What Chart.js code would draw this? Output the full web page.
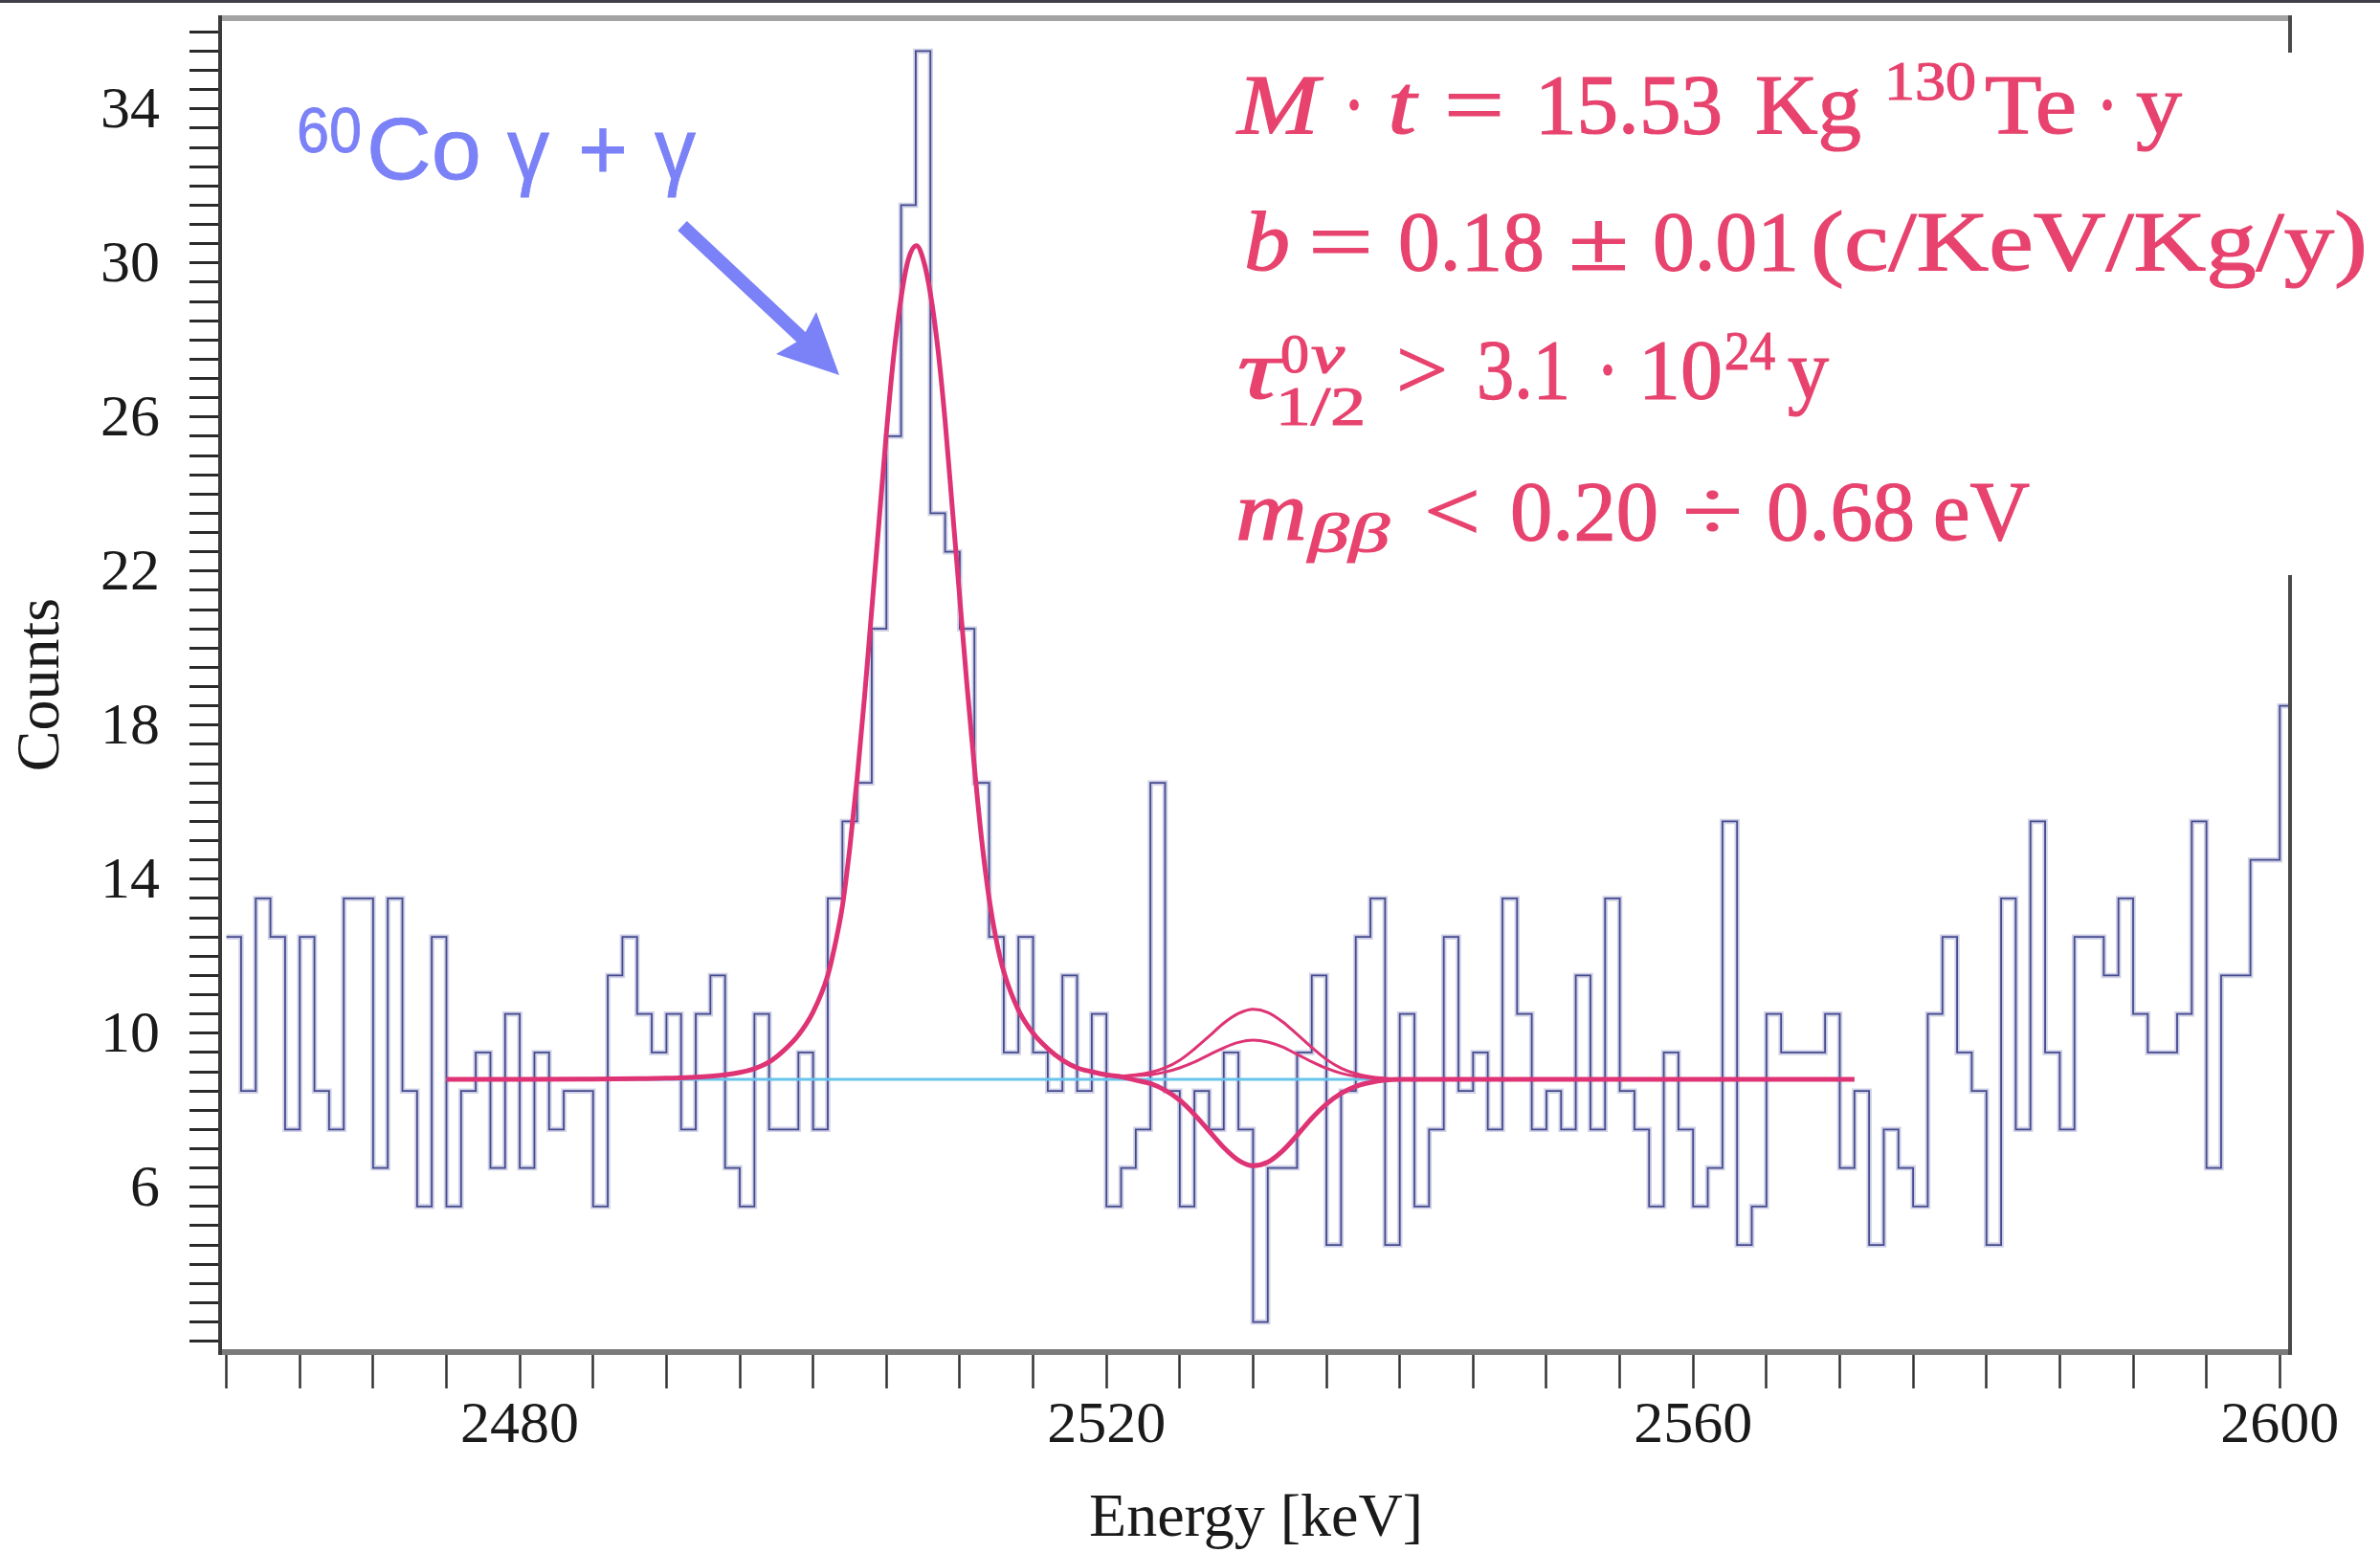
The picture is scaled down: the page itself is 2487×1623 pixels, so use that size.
<!DOCTYPE html>
<html>
<head>
<meta charset="utf-8">
<title>Energy spectrum</title>
<script src="https://cdn.jsdelivr.net/npm/chart.js@4.4.1/dist/chart.umd.min.js"></script>
<style>
  html, body { margin: 0; padding: 0; background: #fff; overflow: hidden; }
  canvas { display: block; }
</style>
</head>
<body>
<canvas id="spectrum" width="2487" height="1623"></canvas>
<script>
// histogram: 1 keV bins, first bin starts at 2460 keV
const binStart = 2460;
const counts = [
  13, 9, 14, 13, 8, 13, 9, 8, 14, 14,      // 2460
  7, 14, 9, 6, 13, 6, 9, 10, 7, 11,        // 2470
  7, 10, 8, 9, 9, 6, 12, 13, 11, 10,       // 2480
  11, 8, 11, 12, 7, 6, 11, 8, 8, 10,       // 2490
  8, 14, 16, 17, 21, 26, 32, 36, 24, 23,   // 2500
  21, 17, 13, 10, 13, 10, 9, 12, 9, 11,    // 2510
  6, 7, 8, 17, 9, 6, 9, 8, 10, 8,          // 2520
  3, 7, 7, 10, 12, 5, 9, 13, 14, 5,        // 2530
  11, 6, 8, 13, 9, 10, 8, 14, 11, 8,       // 2540
  9, 8, 12, 8, 14, 9, 8, 6, 10, 8,         // 2550
  6, 7, 16, 5, 6, 11, 10, 10, 10, 11,      // 2560
  7, 9, 5, 8, 7, 6, 11, 13, 10, 9,         // 2570
  5, 14, 8, 16, 10, 8, 13, 13, 12, 14,     // 2580
  11, 10, 10, 11, 16, 7, 12, 12, 15, 15,   // 2590
  19                                       // 2600
];

// best fit (60Co peak + flat background + 0nu signal)
const fitEnergy = [2475, 2480, 2485, 2488, 2490, 2493, 2495, 2496, 2497, 2498,
  2499, 2500, 2501, 2501.5, 2502, 2502.5, 2503, 2503.5, 2504, 2504.5,
  2505, 2505.5, 2506, 2506.5, 2507.05, 2507.5, 2508, 2508.5, 2509, 2509.5,
  2510, 2510.5, 2511, 2511.5, 2512, 2512.5, 2513, 2514, 2515, 2516,
  2517, 2518, 2519, 2520, 2521, 2522, 2523, 2524, 2525, 2526,
  2527, 2528, 2529, 2530, 2531, 2532, 2533, 2534, 2535, 2536,
  2537, 2538, 2539, 2540, 2545, 2555, 2565, 2571];
const fitCounts = [9.30, 9.30, 9.31, 9.32, 9.33, 9.38, 9.48, 9.58, 9.75, 10.05,
  10.45, 11.05, 12.0, 12.8, 13.8, 15.3, 17.1, 19.2, 21.5, 23.8,
  26.1, 28.1, 29.6, 30.6, 30.95, 30.6, 29.7, 28.3, 26.4, 24.1,
  21.8, 19.5, 17.4, 15.5, 14.0, 12.9, 12.1, 11.1, 10.5, 10.1,
  9.8, 9.6, 9.5, 9.42, 9.37, 9.28, 9.19, 9.02, 8.76, 8.39,
  7.96, 7.53, 7.20, 7.06, 7.15, 7.44, 7.85, 8.29, 8.66, 8.94,
  9.12, 9.22, 9.28, 9.30, 9.30, 9.30, 9.30, 9.30];

// signal limit curves around Q = 2530 keV
const limitEnergy = [2520, 2521, 2522, 2523, 2524, 2525, 2526, 2527, 2528, 2529, 2530,
  2531, 2532, 2533, 2534, 2535, 2536, 2537, 2538, 2539, 2540, 2541];
const limitHigh = [9.42, 9.39, 9.42, 9.48, 9.60, 9.80, 10.09, 10.42, 10.76, 11.01, 11.12,
  11.04, 10.80, 10.47, 10.13, 9.82, 9.59, 9.45, 9.37, 9.33, 9.30, 9.30];
const limitLow = [9.42, 9.38, 9.40, 9.42, 9.49, 9.60, 9.75, 9.94, 10.12, 10.26, 10.32,
  10.27, 10.14, 9.95, 9.76, 9.59, 9.46, 9.38, 9.34, 9.31, 9.30, 9.30];

// flat background level
const bkgEnergy = [2475, 2571];
const bkgCounts = [9.3, 9.3];

const serif = '"Liberation Serif", "Times New Roman", serif';
const sans = '"Liberation Sans", Arial, sans-serif';
const pink = '#de3374';
const textPink = '#e7436e';
const coBlue = '#7b81f6';

const histPoints = counts.map((c, i) => ({ x: binStart + i, y: c }));
histPoints.push({ x: binStart + counts.length, y: counts[counts.length - 1] });
const toPoints = (xs, ys) => xs.map((x, i) => ({ x: x, y: ys[i] }));

// draws a text run squeezed/stretched to span x0..x1
function run(ctx, text, x0, x1, base, size, italic, family) {
  ctx.font = (italic ? 'italic ' : '') + size + 'px ' + family;
  const w = ctx.measureText(text).width;
  ctx.save();
  ctx.translate(x0, base);
  ctx.scale((x1 - x0) / w, 1);
  ctx.fillText(text, 0, 0);
  ctx.strokeText(text, 0, 0);
  ctx.restore();
}

function seg(ctx, x1, y1, x2, y2) {
  ctx.beginPath();
  ctx.moveTo(x1, y1);
  ctx.lineTo(x2, y2);
  ctx.stroke();
}

const decor = {
  id: 'decor',
  afterDatasetsDraw(chart) {
    const ctx = chart.ctx, a = chart.chartArea;
    ctx.save();
    ctx.lineCap = 'butt';
    ctx.strokeStyle = '#a3a3a3'; ctx.lineWidth = 6;
    seg(ctx, a.left - 4, a.top - 1, a.right + 2, a.top - 1);
    ctx.strokeStyle = '#7a7a7a'; ctx.lineWidth = 6;
    seg(ctx, a.left - 4, a.bottom + 2, a.right + 2, a.bottom + 2);
    ctx.strokeStyle = '#3a3a3a'; ctx.lineWidth = 4;
    seg(ctx, a.left - 2, a.top - 4, a.left - 2, a.bottom + 5);
    ctx.strokeStyle = '#4a4a4a';
    seg(ctx, a.right, a.top - 4, a.right, a.bottom + 5);
    ctx.restore();
  },
  afterDraw(chart) {
    const ctx = chart.ctx;
    ctx.save();
    // thin dark edge on top of the picture
    ctx.fillStyle = '#3f3f4a';
    ctx.fillRect(0, 0, chart.width, 3);

    // white box behind the results
    ctx.fillStyle = '#ffffff';
    ctx.fillRect(1280, 55, chart.width - 1280, 546);

    ctx.textAlign = 'left';
    ctx.textBaseline = 'alphabetic';
    ctx.fillStyle = textPink;
    ctx.strokeStyle = textPink;
    ctx.lineWidth = 1.2;
    // M·t = 15.53 Kg 130Te·y
    run(ctx, 'M', 1293, 1378, 139, 88, true, serif);
    run(ctx, '\u00b7', 1403, 1427, 139, 88, false, serif);
    run(ctx, 't', 1450, 1480, 139, 88, true, serif);
    run(ctx, '=', 1509, 1572, 139, 88, false, serif);
    run(ctx, '15.53', 1604, 1800, 139, 88, false, serif);
    run(ctx, 'Kg', 1834, 1945, 139, 88, false, serif);
    run(ctx, '130', 1969, 2065, 104, 58, false, serif);
    run(ctx, 'Te', 2074, 2170, 139, 88, false, serif);
    run(ctx, '\u00b7', 2190, 2214, 139, 88, false, serif);
    run(ctx, 'y', 2232, 2280, 139, 88, false, serif);
    // b = 0.18 ± 0.01 (c/KeV/Kg/y)
    run(ctx, 'b', 1300, 1348, 282, 88, true, serif);
    run(ctx, '=', 1367, 1435, 282, 88, false, serif);
    run(ctx, '0.18', 1461, 1614, 282, 88, false, serif);
    run(ctx, '\u00b1', 1639, 1702, 282, 88, false, serif);
    run(ctx, '0.01', 1727, 1880, 282, 88, false, serif);
    run(ctx, '(c/KeV/Kg/y)', 1892, 2474, 282, 88, false, serif);
    // tau > 3.1·10^24 y
    run(ctx, '\u03c4', 1293, 1337, 416, 88, true, serif);
    run(ctx, '0', 1338, 1368, 389, 58, false, serif);
    run(ctx, '\u03bd', 1370, 1405, 389, 58, true, serif);
    run(ctx, '1/2', 1333, 1427, 444, 58, false, serif);
    run(ctx, '>', 1459, 1513, 416, 88, false, serif);
    run(ctx, '3.1', 1543, 1641, 416, 88, false, serif);
    run(ctx, '\u00b7', 1668, 1692, 416, 88, false, serif);
    run(ctx, '10', 1712, 1800, 416, 88, false, serif);
    run(ctx, '24', 1802, 1855, 386, 58, false, serif);
    run(ctx, 'y', 1868, 1911, 416, 88, false, serif);
    // m_bb < 0.20 ÷ 0.68 eV
    run(ctx, 'm', 1291, 1366, 564, 88, true, serif);
    run(ctx, '\u03b2\u03b2', 1367, 1452, 576, 58, true, serif);
    run(ctx, '<', 1488, 1547, 564, 88, false, serif);
    run(ctx, '0.20', 1578, 1733, 564, 88, false, serif);
    run(ctx, '\u00f7', 1758, 1821, 564, 88, false, serif);
    run(ctx, '0.68', 1846, 2001, 564, 88, false, serif);
    run(ctx, 'eV', 2020, 2121, 564, 88, false, serif);

    // 60Co gamma + gamma label and arrow
    ctx.fillStyle = coBlue;
    ctx.strokeStyle = coBlue;
    ctx.lineWidth = 0.8;
    run(ctx, '60', 310, 378, 159, 66, false, sans);
    run(ctx, 'Co', 383, 503, 187, 90, false, sans);
    run(ctx, '\u03b3', 530, 574, 187, 90, false, sans);
    run(ctx, '+', 604, 656, 187, 90, false, sans);
    run(ctx, '\u03b3', 684, 727, 187, 90, false, sans);

    ctx.lineWidth = 14;
    ctx.lineCap = 'butt';
    seg(ctx, 713, 236, 840, 355);
    ctx.beginPath();
    ctx.moveTo(877, 392);
    ctx.lineTo(853, 326);
    ctx.lineTo(838, 354);
    ctx.lineTo(811, 370);
    ctx.closePath();
    ctx.fill();
    ctx.restore();
  }
};

const ctx = document.getElementById('spectrum').getContext('2d');
const spectrumChart = new Chart(ctx, {
  type: 'line',
  data: {
    datasets: [
      {
        label: 'Fit',
        data: toPoints(fitEnergy, fitCounts),
        borderColor: pink,
        borderWidth: 5,
        pointRadius: 0,
        cubicInterpolationMode: 'monotone',
        order: 0
      },
      {
        label: 'Upper limit',
        data: toPoints(limitEnergy, limitHigh),
        borderColor: pink,
        borderWidth: 3,
        pointRadius: 0,
        cubicInterpolationMode: 'monotone',
        order: 0
      },
      {
        label: 'Lower limit',
        data: toPoints(limitEnergy, limitLow),
        borderColor: pink,
        borderWidth: 3,
        pointRadius: 0,
        cubicInterpolationMode: 'monotone',
        order: 0
      },
      {
        label: 'Background',
        data: toPoints(bkgEnergy, bkgCounts),
        borderColor: '#68c4ec',
        borderWidth: 3,
        pointRadius: 0,
        order: 1
      },
      {
        label: 'Counts',
        data: histPoints,
        stepped: 'before',
        borderColor: '#444a8f',
        borderWidth: 1.8,
        pointRadius: 0,
        order: 2
      },
      {
        label: 'Counts halo',
        data: histPoints,
        stepped: 'before',
        borderColor: 'rgba(150, 153, 200, 0.45)',
        borderWidth: 5.5,
        pointRadius: 0,
        order: 3
      }
    ]
  },
  options: {
    responsive: false,
    animation: false,
    devicePixelRatio: 1,
    layout: { autoPadding: false, padding: { top: 20, right: 94, left: 0, bottom: 0 } },
    plugins: {
      legend: { display: false },
      tooltip: { enabled: false }
    },
    scales: {
      x: {
        type: 'linear',
        min: 2459.7,
        max: 2600.7,
        afterFit(scale) {
          scale.height = 212;
          scale.paddingLeft = 0;
          scale.paddingRight = 0;
        },
        border: { display: false },
        grid: { drawOnChartArea: false, drawTicks: true, tickLength: 40, tickWidth: 2.5, tickColor: '#333' },
        ticks: {
          stepSize: 5,
          includeBounds: false,
          autoSkip: false,
          maxRotation: 0,
          padding: 3,
          color: '#1a1a1a',
          font: { family: serif, size: 62 },
          callback: v => (v % 40 === 0 ? String(v) : '')
        },
        title: {
          display: true,
          text: 'Energy [keV]',
          color: '#1a1a1a',
          font: { family: serif, size: 64, lineHeight: 1.1 },
          padding: { top: 0, bottom: 0 }
        }
      },
      y: {
        type: 'linear',
        min: 2.27,
        max: 36.83,
        afterFit(scale) {
          scale.width = 232;
          scale.paddingTop = 0;
          scale.paddingBottom = 0;
        },
        border: { display: false },
        grid: { drawOnChartArea: false, drawTicks: true, tickLength: 34, tickWidth: 3, tickColor: '#2a2a2a' },
        ticks: {
          stepSize: 0.5,
          includeBounds: false,
          autoSkip: false,
          padding: 31,
          labelOffset: -17,
          color: '#1a1a1a',
          font: { family: serif, size: 62 },
          callback: v => (v % 4 === 2 ? String(v) : '')
        },
        title: {
          display: true,
          text: 'Counts',
          color: '#1a1a1a',
          font: { family: serif, size: 64, lineHeight: 1.1 },
          padding: { top: 9, bottom: 0 }
        }
      }
    }
  },
  plugins: [decor]
});
</script>
</body>
</html>
